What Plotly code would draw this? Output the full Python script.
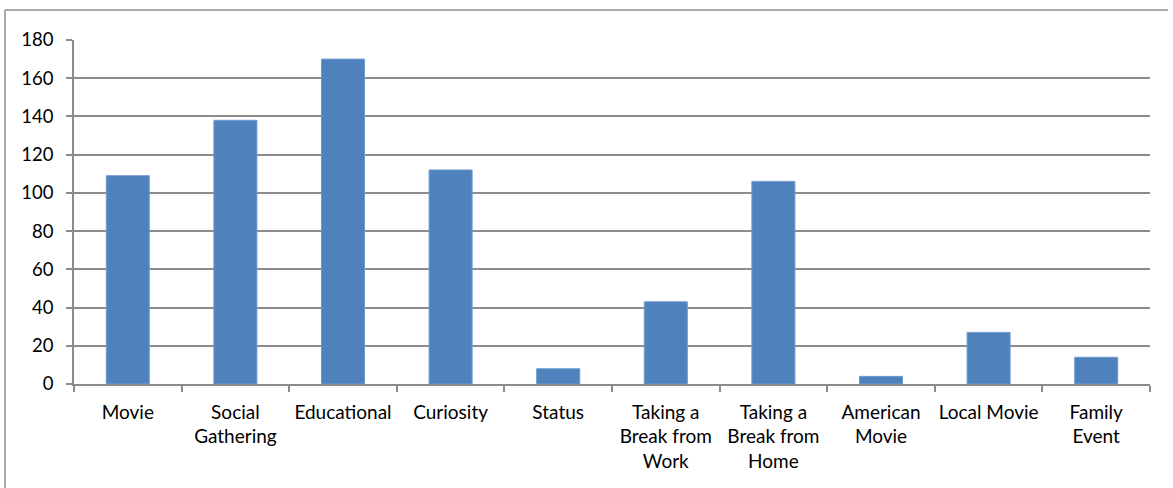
import plotly.graph_objects as go

categories = [
    "Movie",
    "Social<br>Gathering",
    "Educational",
    "Curiosity",
    "Status",
    "Taking a<br>Break from<br>Work",
    "Taking a<br>Break from<br>Home",
    "American<br>Movie",
    "Local Movie",
    "Family<br>Event",
]
counts = [109, 138, 170, 112, 8, 43, 106, 4, 27, 14]
y_ticks = [0, 20, 40, 60, 80, 100, 120, 140, 160, 180]

FONT = dict(family="Lato, Open Sans, sans-serif", size=18.5, color="#000000")
GRID = "#8c8c8c"

fig = go.Figure(
    go.Bar(
        x=categories,
        y=counts,
        marker=dict(color="#4f81bd", line=dict(width=1, color="#6f9bd0")),
        width=0.4,
    )
)

fig.update_layout(
    width=1173,
    height=488,
    margin=dict(l=74, r=23, t=40, b=104),
    paper_bgcolor="white",
    plot_bgcolor="white",
    font=FONT,
    showlegend=False,
    bargap=0.6,
    shapes=[
        # outer chart-area border (left and top edges visible)
        dict(type="line", xref="paper", yref="paper",
             x0=-69 / 1076, x1=1168 / 1076 - 74 / 1076, y0=1 + 30 / 344, y1=1 + 30 / 344,
             line=dict(color="#8c8c8c", width=1.5)),
        dict(type="line", xref="paper", yref="paper",
             x0=-69 / 1076, x1=-69 / 1076, y0=1 + 30 / 344, y1=-110 / 344,
             line=dict(color="#8c8c8c", width=1.5)),
    ],
)

fig.update_xaxes(
    type="category",
    tickson="boundaries",
    ticks="outside",
    ticklen=6,
    tickcolor=GRID,
    tickwidth=1.5,
    showline=True,
    linecolor=GRID,
    linewidth=1.5,
    showgrid=False,
    tickfont=dict(FONT, size=19),
    tickangle=0,
    automargin=False,
    ticklabelstandoff=10,
)

fig.update_yaxes(
    range=[0, 180],
    tickvals=y_ticks,
    ticks="outside",
    ticklen=6,
    tickcolor=GRID,
    tickwidth=1.5,
    showline=True,
    linecolor=GRID,
    linewidth=1.5,
    showgrid=True,
    gridcolor=GRID,
    gridwidth=1.5,
    zeroline=False,
    tickfont=FONT,
    automargin=False,
    ticklabelstandoff=9,
)

fig.write_html("out.html")
